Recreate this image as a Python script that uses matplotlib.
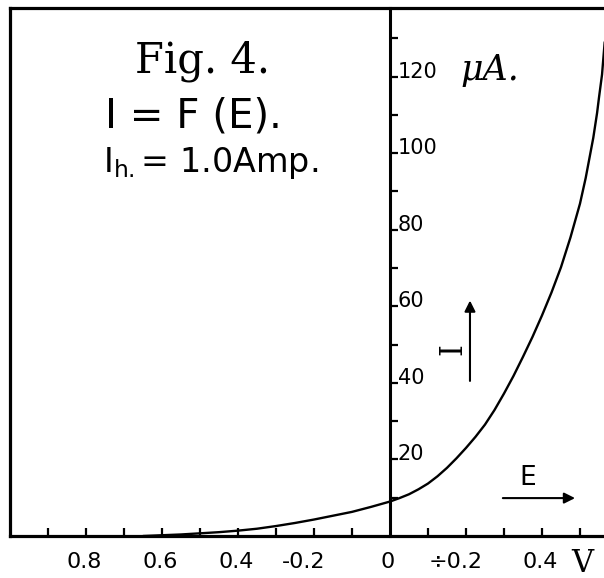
import matplotlib
matplotlib.use("Agg")
import matplotlib.pyplot as plt
from matplotlib.transforms import blended_transform_factory

# ---- data ----
E_volts = [-0.65, -0.60, -0.55, -0.50, -0.45, -0.40, -0.35, -0.30, -0.25, -0.20,
           -0.15, -0.10, -0.05, 0.0, 0.025, 0.05, 0.075, 0.10, 0.125, 0.15,
           0.175, 0.20, 0.225, 0.25, 0.275, 0.30, 0.325, 0.35, 0.375, 0.40,
           0.425, 0.45, 0.475, 0.50, 0.515, 0.535, 0.545, 0.55, 0.558, 0.565]
I_uA = [0.0, 0.2, 0.4, 0.7, 1.0, 1.4, 1.9, 2.6, 3.4, 4.3,
        5.3, 6.3, 7.6, 9.0, 9.9, 10.9, 12.2, 13.7, 15.6, 17.8,
        20.3, 23.0, 25.9, 29.1, 32.9, 37.2, 41.8, 46.8, 52.0, 57.6,
        63.6, 70.2, 78.0, 86.8, 93.5, 104.0, 110.5, 114.5, 120.5, 129.0]

x_ticks = [-0.9, -0.8, -0.7, -0.6, -0.5, -0.4, -0.3, -0.2, -0.1, 0.1, 0.2, 0.3, 0.4, 0.5]
x_label_pos = [-0.8, -0.6, -0.4, -0.2, 0.0, 0.2, 0.4]
x_label_txt = ["0.8", "0.6", "0.4", "-0.2", "0", "\u00f70.2", "0.4"]
y_ticks = [10, 20, 30, 40, 50, 60, 70, 80, 90, 100, 110, 120, 130]
y_label_pos = [20, 40, 60, 80, 100, 120]
y_label_txt = ["20", "40", "60", "80", "100", "120"]

W, H = 604, 578
fig = plt.figure(figsize=(W / 100, H / 100), dpi=100)
fig.patch.set_facecolor("white")
ax = fig.add_axes([10 / W, (H - 536) / H, (W - 10) / W, (536 - 8) / H])
ax.set_xlim(-1.0, 0.5632)
ax.set_ylim(0, 137.9)

lw_frame = 2.3
for s in ["top", "bottom"]:
    ax.spines[s].set_linewidth(lw_frame)
ax.spines["right"].set_visible(False)
ax.spines["left"].set_position(("data", 0))
ax.spines["left"].set_linewidth(2.2)
# outer left border of the figure frame
ax.plot([0, 0], [0, 1], transform=ax.transAxes, color="black", lw=lw_frame,
        clip_on=False, solid_capstyle="projecting")

ax.set_xticks(x_ticks)
ax.set_yticks(y_ticks)
ax.tick_params(axis="x", direction="in", length=6, width=1.6, labelbottom=False)
ax.tick_params(axis="y", direction="in", length=6, width=1.6, labelleft=False)

# curve
ax.plot(E_volts, I_uA, color="black", lw=1.7, solid_capstyle="round",
        solid_joinstyle="round")

# y tick labels (right of the axis)
for v, t in zip(y_label_pos, y_label_txt):
    ax.text(0.02, v + 1.3, t, ha="left", va="center", fontsize=15,
            family="DejaVu Sans")
ax.text(0.185, 119.2, "\u03bcA.", ha="left", va="baseline", fontsize=25,
        style="italic", family="DejaVu Serif")

# x tick labels
trans = blended_transform_factory(ax.transData, ax.transAxes)
for v, t in zip(x_label_pos, x_label_txt):
    shift = -0.028 if t[0] in "-\u00f7+" else -0.005
    ax.text(v + shift, -0.031, t, ha="center", va="top", fontsize=16,
            family="DejaVu Sans", transform=trans)
ax.text(0.507, -0.022, "V", ha="center", va="top", fontsize=22,
        family="DejaVu Serif", transform=trans)

# titles
ax.text(-0.671, 121.1, "Fig. 4.", ha="left", va="baseline", fontsize=30,
        family="DejaVu Serif")
ax.text(-0.75, 106.8, "I = F (E).", ha="left", va="baseline", fontsize=29,
        family="DejaVu Sans")
ax.text(-0.755, 95.0, r"$\mathregular{I_{h.}}$= 1.0Amp.", ha="left", va="baseline",
        fontsize=24, family="DejaVu Sans")

# axis direction arrows
ax.annotate("", xy=(0.2105, 61.5), xytext=(0.2105, 40.5),
            arrowprops=dict(arrowstyle="-|>", color="black", lw=1.5,
                            mutation_scale=16, shrinkA=0, shrinkB=0))
ax.text(0.166, 48.8, "I", rotation=90, ha="center", va="center", fontsize=22,
        family="DejaVu Serif")
ax.annotate("", xy=(0.487, 9.9), xytext=(0.297, 9.9),
            arrowprops=dict(arrowstyle="-|>", color="black", lw=1.5,
                            mutation_scale=16, shrinkA=0, shrinkB=0))
ax.text(0.363, 15.1, "E", ha="center", va="center", fontsize=19,
        family="DejaVu Sans")

fig.savefig("out.png", dpi=100, facecolor="white")
